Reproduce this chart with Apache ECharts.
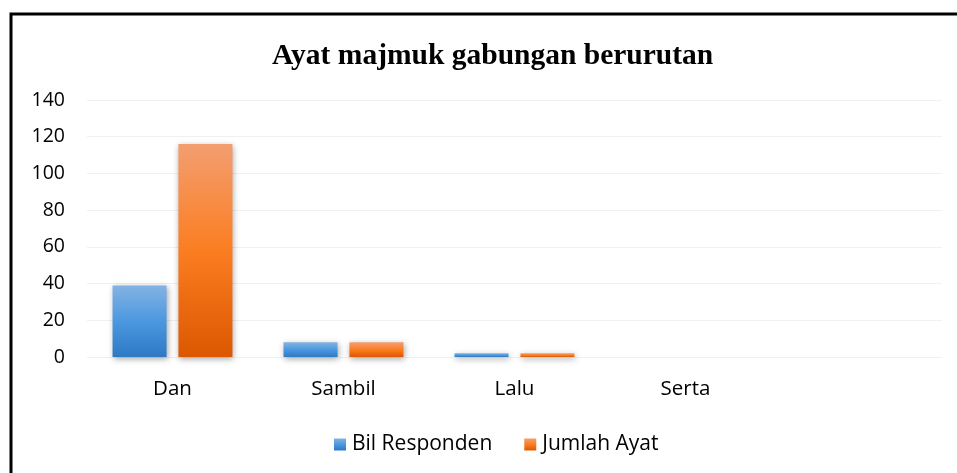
<!DOCTYPE html>
<html>
<head>
<meta charset="utf-8">
<script src="https://cdn.jsdelivr.net/npm/echarts@6/dist/echarts.min.js"></script>
<style>
  html, body { margin: 0; padding: 0; background: #fff; }
  #chart { width: 957px; height: 473px; }
</style>
</head>
<body>
<div id="chart"></div>
<script>
const categories = ["Dan", "Sambil", "Lalu", "Serta", ""];
const bilResponden = [39, 8, 2, 0, null];
const jumlahAyat = [116, 8, 2, 0, null];
const yTicks = [0, 20, 40, 60, 80, 100, 120, 140];

const chart = echarts.init(document.getElementById("chart"));

const grad = (top, mid, bottom) =>
  new echarts.graphic.LinearGradient(0, 0, 0, 1, [
    { offset: 0, color: top },
    { offset: 0.5, color: mid },
    { offset: 1, color: bottom },
  ]);

const blue = grad("#84b3e3", "#4b98e0", "#2d79c4");
const orange = grad("#f39e70", "#fb7d21", "#dc5800");

const labelFont = "'Open Sans', 'Noto Sans', sans-serif";

const option = {
  animation: false,
  title: {
    text: "Ayat majmuk gabungan berurutan",
    left: 267,
    top: 36,
    textStyle: {
      fontFamily: "'Liberation Serif', 'DejaVu Serif', serif",
      fontWeight: "bold",
      fontSize: 29.5,
      color: "#000",
    },
  },
  graphic: [
    {
      type: "polyline",
      shape: { points: [[11, 473], [11, 14], [957, 14]] },
      style: { stroke: "#000", lineWidth: 3, fill: null },
    },
  ],
  legend: {
    data: [
      { name: "Bil Responden", itemStyle: { color: blue } },
      { name: "Jumlah Ayat", itemStyle: { color: orange } },
    ],
    left: 329,
    top: 429,
    icon: "rect",
    itemWidth: 12,
    itemHeight: 12,
    itemGap: 32,
    textStyle: { fontFamily: labelFont, fontSize: 21, color: "#000", padding: [0, 0, 0, 1] },
  },
  grid: { left: 87, right: 15, top: 100, bottom: 116 },
  xAxis: {
    type: "category",
    data: categories,
    axisLine: { show: false },
    axisTick: { show: false },
    axisLabel: { fontFamily: labelFont, fontSize: 20.5, color: "#000", margin: 22 },
  },
  yAxis: {
    type: "value",
    min: yTicks[0],
    max: yTicks[yTicks.length - 1],
    interval: 20,
    axisLine: { show: false },
    axisTick: { show: false },
    axisLabel: { fontFamily: labelFont, fontSize: 19.5, color: "#000", margin: 22 },
    splitLine: { lineStyle: { color: "#f0f0f0", width: 1 } },
  },
  series: [
    {
      name: "Bil Responden",
      type: "bar",
      data: bilResponden,
      barWidth: 54,
      barGap: "22%",
      itemStyle: {
        color: blue,
        shadowColor: "rgba(0,0,0,0.35)",
        shadowBlur: 6,
        shadowOffsetX: 1,
        shadowOffsetY: 2,
      },
    },
    {
      name: "Jumlah Ayat",
      type: "bar",
      data: jumlahAyat,
      barWidth: 54,
      itemStyle: {
        color: orange,
        shadowColor: "rgba(0,0,0,0.35)",
        shadowBlur: 6,
        shadowOffsetX: 1,
        shadowOffsetY: 2,
      },
    },
  ],
};

chart.setOption(option);
</script>
</body>
</html>
